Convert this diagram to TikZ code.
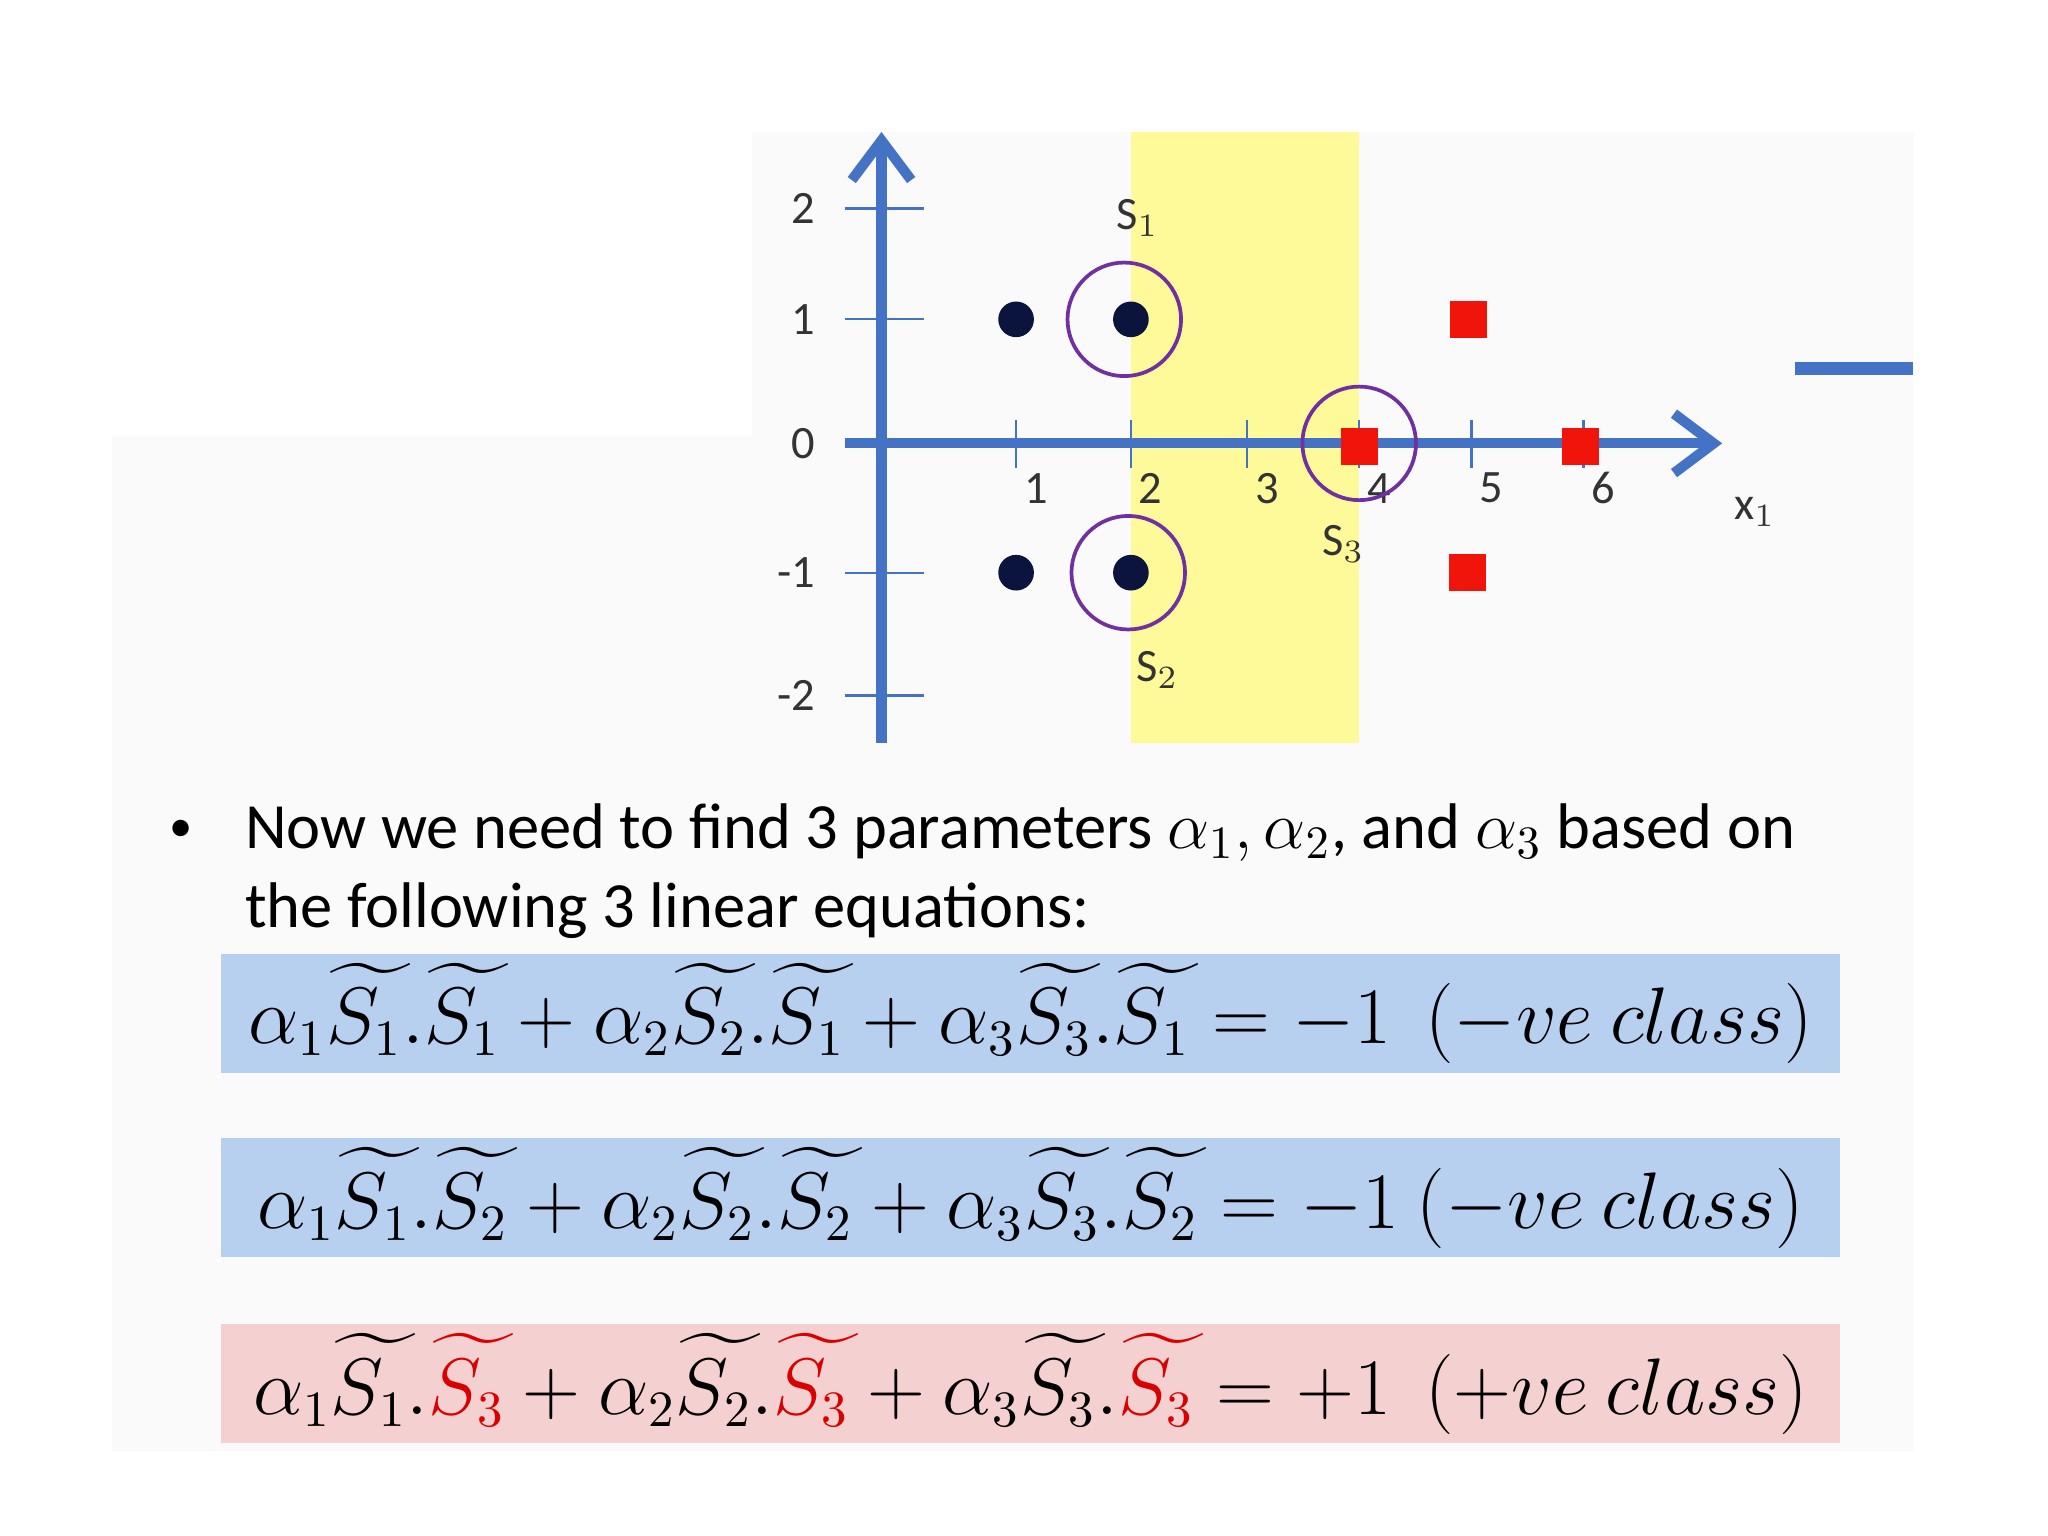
\documentclass[tikz,border=0pt]{standalone}
\usepackage{amsmath,mathtools}
\usepackage{fontspec}
\setmainfont{Carlito}
\setsansfont{Carlito}
\usetikzlibrary{arrows.meta}
\newcommand{\tS}[1]{\mathrlap{\widetilde{\phantom{S_{#1}}\,}}S_{#1}}
\begin{document}
\begin{tikzpicture}[x=0.01cm,y=-0.01cm,
  ax/.style={draw={rgb,255:red,68;green,114;blue,196},line width=2.2pt},
  tk/.style={draw={rgb,255:red,68;green,114;blue,196},line width=0.5pt},
  lab/.style={font=\fontsize{10}{12}\selectfont\sffamily,text=black!80},
  negpt/.style={circle,fill={rgb,255:red,10;green,20;blue,60},minimum size=0.27cm,inner sep=0},
  pospt/.style={rectangle,fill={rgb,255:red,240;green,20;blue,10},minimum size=0.28cm,inner sep=0},
  sv/.style={circle,draw={rgb,255:red,112;green,48;blue,160},line width=0.8pt,minimum size=0.86cm,inner sep=0},
  eqbox/.style={inner sep=0,minimum width=12.26cm,minimum height=0.9cm,font=\fontsize{16.2}{18}\selectfont}]
\useasboundingbox (0,0) rectangle (1552,1164);
\fill[black!2] (570,100) rectangle (1450,330) (85,330) rectangle (1450,1100);
\fill[yellow!40] (857,100) rectangle (1030,563);
% axes
\foreach \y/\t/\n in {158/2/ya,242/1/yb,336/0/yc,434/-1/yd,527/-2/ye}{
  \draw[tk] (640,\y) -- (700,\y);
  \node[lab,anchor=east] (\n) at (630,\y) {\t};}
\foreach \x/\t/\n in {770/1/xa,857/2/xb,945/3/xc,1030/4/xd,1115/5/xe,1200/6/xf}{
  \draw[tk] (\x,318) -- (\x,355);
  \node[lab] (\n) at (\x+15,370) {\t};}
\coordinate (yb0) at (668,563); \coordinate (yt0) at (668,100);
\coordinate (xl0) at (640,336); \coordinate (xr0) at (1305,336);
\draw[ax,-{Straight Barb[length=0.3cm,width=0.45cm]}] (yb0) -- (yt0);
\draw[ax,-{Straight Barb[length=0.3cm,width=0.45cm]}] (xl0) -- (xr0);
\node[lab] (x1) at (1330,388) {x$_1$};
% points
\node[negpt] (n1) at (770,242) {}; \node[negpt] (n2) at (857,242) {};
\node[negpt] (n3) at (770,434) {}; \node[negpt] (n4) at (857,434) {};
\node[pospt] (p1) at (1113,242) {}; \node[pospt] (p2) at (1030,338) {};
\node[pospt] (p3) at (1198,338) {}; \node[pospt] (p4) at (1112,434) {};
\node[sv] (c1) at (852,242) {}; \node[sv] (c2) at (855,434) {}; \node[sv] (c3) at (1030,336) {};
\node[lab] (s1) at (862,165) {S$_1$};
\node[lab] (s2) at (877,508) {S$_2$};
\node[lab] (s3) at (1018,412) {S$_3$};
\draw[line width=2.8pt,draw={rgb,255:red,68;green,114;blue,196}] (1360,279) -- (1450,279);
% text
\node[font=\fontsize{10}{12}\selectfont] (bul) at (137,630) {\textbullet};
\node[anchor=west,font=\fontsize{13.9}{17}\selectfont,align=left,inner sep=0] (txt) at (185,660)
 {Now we need to find 3 parameters $\alpha_1, \alpha_2$, and $\alpha_3$ based on\\ the following 3 linear equations:};
\node[eqbox,fill={rgb,255:red,184;green,208;blue,240},anchor=north west] (e1) at (167,722)
 {$\alpha_1\tS1.\tS1+\alpha_2\tS2.\tS1+\alpha_3\tS3.\tS1=-1~~(-ve~class)$};
\node[eqbox,fill={rgb,255:red,184;green,208;blue,240},anchor=north west] (e2) at (167,862)
 {$\alpha_1\tS1.\tS2+\alpha_2\tS2.\tS2+\alpha_3\tS3.\tS2=-1~(-ve~class)$};
\node[eqbox,fill={rgb,255:red,245;green,208;blue,208},anchor=north west] (e3) at (167,1003)
 {$\alpha_1\tS1.\textcolor{red!85!black}{\tS3}+\alpha_2\tS2.\textcolor{red!85!black}{\tS3}+\alpha_3\tS3.\textcolor{red!85!black}{\tS3}=+1~~(+ve~class)$};
\end{tikzpicture}
\end{document}
